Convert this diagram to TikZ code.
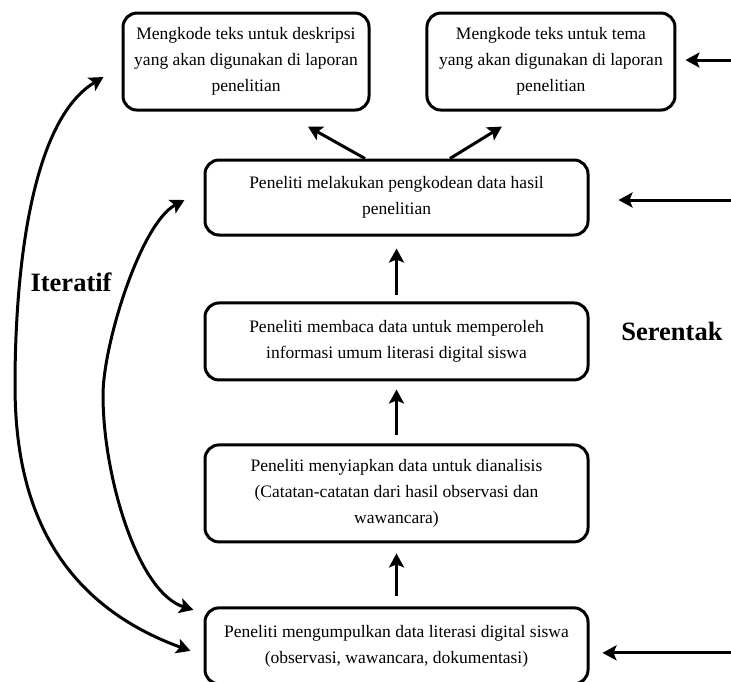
\documentclass[tikz,border=0pt]{standalone}
\usepackage{fontspec}
\setmainfont{Liberation Serif}
\usetikzlibrary{shapes.geometric, arrows.meta}
\tikzstyle{tahap} = [rectangle, rounded corners=14pt, minimum width=383pt, minimum height=76pt, align=center, draw=black, line width=3pt, font=\fontsize{17.5}{26}\selectfont]
\tikzstyle{kodebox} = [tahap, minimum width=246pt, minimum height=97pt]
\tikzstyle{judul} = [font=\fontsize{26.5}{30}\selectfont\bfseries]
\tikzstyle{arrow} = [line width=3pt,->,>={Stealth[length=14pt,width=15pt,inset=3pt]}]
\tikzstyle{iterarrow} = [arrow,<->]

\begin{document}
\begin{tikzpicture}
		\useasboundingbox (0,0) rectangle (731pt,-681pt);
		\node (kode) [tahap, minimum height=75pt] at (396.5pt,-197.5pt) {
			Peneliti melakukan pengkodean data hasil\\
			penelitian
		};
		\node (baca) [tahap, below of=kode, yshift=-115.5pt, minimum height=77pt] {
			Peneliti membaca data untuk memperoleh\\
			informasi umum literasi digital siswa
		};
		\node (siap) [tahap, below of=baca, yshift=-123.5pt, minimum height=97pt] {
			Peneliti menyiapkan data untuk dianalisis\\
			(Catatan-catatan dari hasil observasi dan\\
			wawancara)
		};
		\node (kumpul) [tahap, below of=siap, yshift=-124pt] {
			Peneliti mengumpulkan data literasi digital siswa\\
			(observasi, wawancara, dokumentasi)
		};
		\node (deskripsi) [kodebox, above of=kode, xshift=-150.5pt, yshift=107.5pt] {
			Mengkode teks untuk deskripsi\\
			yang akan digunakan di laporan\\
			penelitian
		};
		\node (tema) [kodebox, right of=deskripsi, xshift=276.5pt, minimum width=248pt] {
			Mengkode teks untuk tema\\
			yang akan digunakan di laporan\\
			penelitian
		};
		\node (serentak) [judul, right of=baca, xshift=247pt, yshift=10.5pt] {Serentak};
		\node (iteratif) [judul, left of=baca, xshift=-297pt, yshift=59.5pt] {Iteratif};
		\coordinate (s1) at ([xshift=55pt,yshift=1.5pt]tema.east);
		\coordinate (s2) at ([xshift=142pt,yshift=-2.5pt]kode.east);
		\coordinate (s3) at ([xshift=142pt,yshift=-7pt]kumpul.east);
		\coordinate (it1) at ([xshift=-13pt,yshift=-5pt]kumpul.west);
		\coordinate (it2) at ([xshift=-18pt,yshift=-15.5pt]deskripsi.west);
		\coordinate (it3) at ([xshift=-10pt,yshift=36pt]kumpul.west);
		\coordinate (it4) at ([xshift=-19pt,yshift=-2.5pt]kode.west);
		\coordinate (itL1) at (15pt,-385pt);
		\coordinate (itL2) at (103pt,-395pt);
		\draw [arrow] ([xshift=-31.5pt]kode.north) -- ([xshift=62pt,yshift=-15pt]deskripsi.south);
		\draw [arrow] ([xshift=53.5pt]kode.north) -- ([xshift=-49pt,yshift=-15pt]tema.south);
		\draw [arrow, shorten <=6pt, shorten >=12pt] (baca) -- (kode);
		\draw [arrow, shorten <=8pt, shorten >=8pt] (siap) -- (baca);
		\draw [arrow, shorten <=10pt, shorten >=10pt] (kumpul) -- (siap);
		\draw [arrow, shorten >=9pt] (s1) -- (s1 -| tema.east);
		\draw [arrow, shorten >=29pt] (s2) -- (s2 -| kode.east);
		\draw [arrow, shorten >=13pt] (s3) -- (s3 -| kumpul.east);
		\draw [iterarrow] (it1) to[out=160, in=-90, out distance=160pt, in distance=95pt] (itL1)
			to[out=90, in=211, out distance=82pt, in distance=93pt] (it2);
		\draw [iterarrow] (it3) to[out=163, in=-90, out distance=58pt, in distance=82pt] (itL2)
			to[out=90, in=208, out distance=50pt, in distance=50pt] (it4);
	\end{tikzpicture}
\end{document}
